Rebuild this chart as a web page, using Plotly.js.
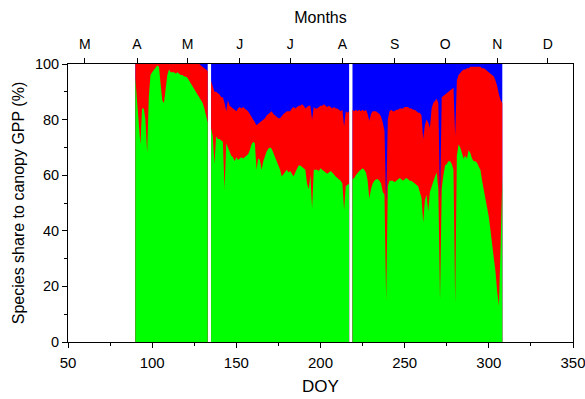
<!DOCTYPE html>
<html>
<head>
<meta charset="utf-8">
<script src="https://cdn.plot.ly/plotly-3.0.1.min.js"></script>
<style>html,body{margin:0;padding:0;background:#fff;}#chart{width:585px;height:399px;}</style>
</head>
<body>
<div id="chart"></div>
<script>
// Day of year: 90 .. 308 (one value per day; null = gap in record)
const firstDoy = 90;

// Green species share (%), bottom layer
const greenShare = [
  95, 88, 78, 71, 84, 84, 80, 68, 88, 96,
  97, 98, 99, 99.5, 99, 93, 87, 86, 91, 96,
  98, 97, 97, 97, 96.5, 97, 96.5, 96, 96, 95.5,
  95.5, 95, 94, 93, 92, 91.5, 90.5, 89.5, 88.5, 87,
  86, 84, 81, 79, null, 77, 74, 64, 74, 73,
  73, 72.5, 72, 55, 71.5, 70, 68.5, 67, 66.5, 65,
  66.5, 65.5, 66, 66.5, 66, 66.5, 67, 67.5, 69, 71,
  72, 71.5, 62, 66, 65.5, 62, 65, 67, 68.5, 69.5,
  70, 69.5, 68, 67, 65, 64, 62, 59.5, 60.5, 61.5,
  62, 61, 61.5, 60.5, 59.5, 61, 62.5, 63.5, 63.5, 63,
  62.5, 62, 57, 55, 60, 48, 62, 62, 62, 61.5,
  62.5, 62, 61.5, 61, 60.5, 61, 61.5, 61, 60, 59.5,
  59, 58.5, 58, 57, 47.5, 56, 56.5, 57, null, 58.5,
  59, 60, 61, 61.5, 62, 62.5, 62, 61, 58, 51.5,
  55, 57, 58, 58.5, 58.5, 58, 57, 54, 53, 15,
  56, 58, 58, 58, 57.5, 58, 58.5, 59, 58.5, 58,
  58.5, 59, 58.5, 58, 58, 57.5, 57, 56.5, 56, 54,
  52, 43, 51, 53, 47, 54, 56, 58, 59.5, 61,
  55, 15, 55, 60, 63.5, 64, 65, 65, 64, 62,
  14, 67, 71, 70, 68, 66, 67, 66, 69, 68,
  66, 65, 65, 64.5, 63, 62, 58, 55, 52, 49,
  45, 40, 35, 31, 25, 18, 13, 35, 59
];

// Green + red species share (%), i.e. top of the red layer
const greenPlusRed = [
  100, 100, 100, 100, 100, 100, 100, 100, 100, 100,
  100, 100, 100, 100, 100, 100, 100, 100, 100, 100,
  100, 100, 100, 100, 100, 100, 100, 100, 100, 100,
  100, 100, 100, 100, 100, 100, 100, 100, 100, 99.5,
  99, 98.5, 98, 97.5, null, 94, 92, 90, 90, 89.5,
  89, 88, 88, 86, 83, 87, 85, 84.5, 84, 83.5,
  83, 84, 84.5, 84, 84.5, 84, 83.5, 83, 82, 81,
  79.5, 79, 78, 78.5, 79, 79.5, 80, 80.5, 81.5, 82,
  82.5, 83, 82, 81.5, 81, 80.5, 80.5, 81.5, 82, 82.5,
  83, 83, 83, 84, 84.5, 84, 84.5, 85, 85, 85.5,
  85, 84, 84.5, 85, 85, 80, 84.5, 84, 84, 84.5,
  85, 85, 85.5, 85, 84.5, 85, 84.5, 84, 84.5, 84,
  84, 83.5, 83, 83.5, 77.5, 83, 82.5, 83, null, 83.5,
  83, 83.5, 83, 83.5, 83, 83.5, 83, 83.5, 82, 79.5,
  82, 83, 83, 83, 82.5, 82, 81, 79, 76, 50,
  80, 83, 83.5, 83, 83, 83.5, 83.5, 84, 84, 84,
  84.5, 84.5, 84.5, 84, 84, 83.5, 83.5, 83, 82.5, 82.5,
  81.5, 73, 78, 80, 79, 77, 84, 86, 87, 87.5,
  86, 50, 88, 88.5, 89, 89.5, 90, 90.5, 91, 91.5,
  74, 94, 96, 97, 97.5, 98, 98, 98.5, 98.5, 99,
  99, 99, 99, 99, 99, 99, 98.5, 98.5, 98, 97.5,
  97, 96.5, 96, 95.5, 94, 92, 89, 87, 86
];

// Month ticks on the top axis
const monthDoy = [60, 91, 121, 152, 182, 213, 244, 274, 305, 335];
const monthLabels = ['M', 'A', 'M', 'J', 'J', 'A', 'S', 'O', 'N', 'D'];

const doy = greenShare.map((_, i) => firstDoy + i);
// Blue species fills the remainder up to 100 %
const blueTop = greenPlusRed.map(v => v === null ? null : 100);

// Split the record into contiguous segments (gaps = null days)
function segments(ys) {
  const out = [];
  let cx = [], cy = [];
  ys.forEach((v, i) => {
    if (v === null) { if (cx.length) out.push({x: cx, y: cy}); cx = []; cy = []; }
    else { cx.push(doy[i]); cy.push(v); }
  });
  if (cx.length) out.push({x: cx, y: cy});
  return out;
}

const traces = [];
[[blueTop, '#0000FF'], [greenPlusRed, '#FF0000'], [greenShare, '#00FF00']].forEach(([ys, col]) => {
  segments(ys).forEach(seg => {
    traces.push({type: 'scatter', mode: 'lines', x: seg.x, y: seg.y, fill: 'tozeroy',
      fillcolor: col, line: {width: 0, color: col, shape: 'linear'},
      hoverinfo: 'skip', showlegend: false});
  });
});
traces.push({type: 'scatter', mode: 'markers', x: monthDoy, y: monthDoy.map(() => null), xaxis: 'x2',
   showlegend: false, hoverinfo: 'skip', marker: {opacity: 0}});

const font = 'Arial, "Liberation Sans", sans-serif';
const layout = {
  width: 585, height: 399,
  margin: {l: 68, r: 12, t: 64, b: 57},
  paper_bgcolor: '#fff', plot_bgcolor: '#fff',
  font: {family: font, color: '#000'},
  xaxis: {
    range: [50, 350], tick0: 50, dtick: 50, ticks: 'outside', ticklen: 5, tickwidth: 1,
    tickcolor: '#000', showline: true, linecolor: '#000', linewidth: 1, mirror: false,
    showgrid: false, zeroline: false, tickfont: {size: 15, family: font}, ticklabelstandoff: 2,
    ticklabeloverflow: 'allow',
    minor: {dtick: 25, ticks: 'outside', ticklen: 3, tickcolor: '#000', showgrid: false},
    title: {text: 'DOY', font: {size: 17, family: font}, standoff: 10}
  },
  xaxis2: {
    overlaying: 'x', side: 'top', anchor: 'y', range: [50, 350],
    tickmode: 'array', tickvals: monthDoy, ticktext: monthLabels,
    ticks: 'outside', ticklen: 5, tickwidth: 1, tickcolor: '#000', ticklabelstandoff: 3,
    showline: true, linecolor: '#000', linewidth: 1, showgrid: false, zeroline: false,
    tickfont: {size: 14, family: font},
    title: {text: 'Months', font: {size: 16, family: font}, standoff: 8}
  },
  yaxis: {
    range: [0, 100], tick0: 0, dtick: 20, ticks: 'outside', ticklen: 5, tickwidth: 1,
    tickcolor: '#000', showline: true, linecolor: '#000', linewidth: 1, mirror: true,
    showgrid: false, zeroline: false, tickfont: {size: 14.5, family: font},
    minor: {dtick: 10, ticks: 'outside', ticklen: 3, tickcolor: '#000', showgrid: false},
    title: {text: 'Species share to canopy GPP (%)', font: {size: 16, family: font}, standoff: 6}
  }
};

Plotly.newPlot('chart', traces, layout, {staticPlot: true, displayModeBar: false});
</script>
</body>
</html>
